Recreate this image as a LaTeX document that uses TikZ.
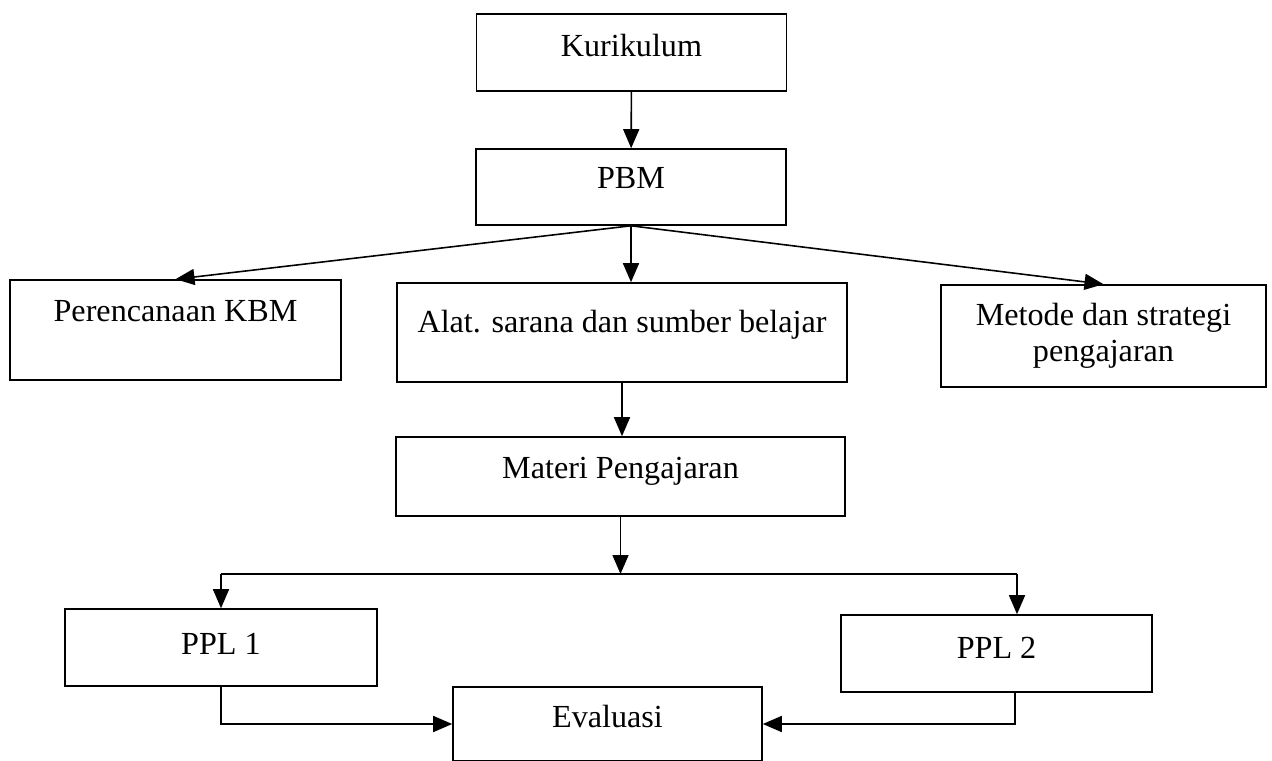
\documentclass[tikz,border=0pt]{standalone}
\usepackage{fontspec}
\setmainfont{Liberation Serif}
\usetikzlibrary{arrows.meta, positioning, calc}

\begin{document}
\begin{tikzpicture}[
        blok/.style={rectangle, draw, line width=0.9pt, inner sep=2pt, align=center, font=\fontsize{18.3}{20.5}\selectfont},
        teks/.style={text height=0.5cm, text depth=#1},
        panah/.style={-{Triangle[length=0.38cm, width=0.32cm]}, line width=0.9pt},
        garis/.style={line width=0.9pt}
    ]
    \useasboundingbox (0,0) rectangle (25.44,-15.22);

    % Blok atas
    \node[blok, teks=0.32cm, minimum width=6.2cm, minimum height=1.54cm] (kurikulum) at (12.63,-1.05) {Kurikulum};
    \node[blok, teks=0.44cm, minimum width=6.2cm, minimum height=1.52cm] (pbm) at (12.62,-3.74) {PBM};

    % Blok tengah
    \node[blok, teks=0.86cm, minimum width=6.62cm, minimum height=2.0cm] (perencanaan) at (3.51,-6.6) {Perencanaan KBM};
    \node[blok, teks=0.52cm, minimum width=9.0cm, minimum height=1.98cm] (alat) at (12.44,-6.65) {Alat. sarana dan sumber belajar};
    \node[blok, minimum width=6.5cm, minimum height=2.04cm] (metode) at (22.07,-6.72) {Metode dan strategi\\pengajaran};
    \node[blok, teks=0.42cm, minimum width=8.98cm, minimum height=1.58cm] (materi) at (12.41,-9.53) {Materi Pengajaran};

    % Blok bawah
    \node[blok, teks=0.24cm, minimum width=6.24cm, minimum height=1.54cm] (ppl1) at (4.42,-12.95) {PPL 1};
    \node[blok, teks=0.3cm, minimum width=6.22cm, minimum height=1.54cm] (ppl2) at (19.93,-13.07) {PPL 2};
    \node[blok, teks=0.36cm, minimum width=6.18cm, minimum height=1.48cm] (evaluasi) at (12.15,-14.48) {Evaluasi};

    % Titik bantu
    \coordinate (cabang) at (materi.south |- 0,-11.48);
    \coordinate (kiri) at (ppl1.north |- cabang);
    \coordinate (kanan) at (20.34,-11.48);
    \coordinate (keluar2) at (20.3,0 |- ppl2.south);

    % Panah
    \draw[panah] (kurikulum) -- (pbm);
    \draw[panah] (pbm.south) -- (perencanaan.north);
    \draw[panah] (pbm.south) -- (pbm.south |- alat.north);
    \draw[panah] (pbm.south) -- (metode.north);
    \draw[panah] (alat.south) -- (alat.south |- materi.north);
    \draw[panah] (materi.south) -- (cabang);
    \draw[garis] (kiri) -- (kanan);
    \draw[panah] (kiri) -- (ppl1.north);
    \draw[panah] (kanan) -- (kanan |- ppl2.north);
    \draw[panah] (ppl1.south) |- (evaluasi.west);
    \draw[panah] (keluar2) |- (evaluasi.east);
\end{tikzpicture}
\end{document}
